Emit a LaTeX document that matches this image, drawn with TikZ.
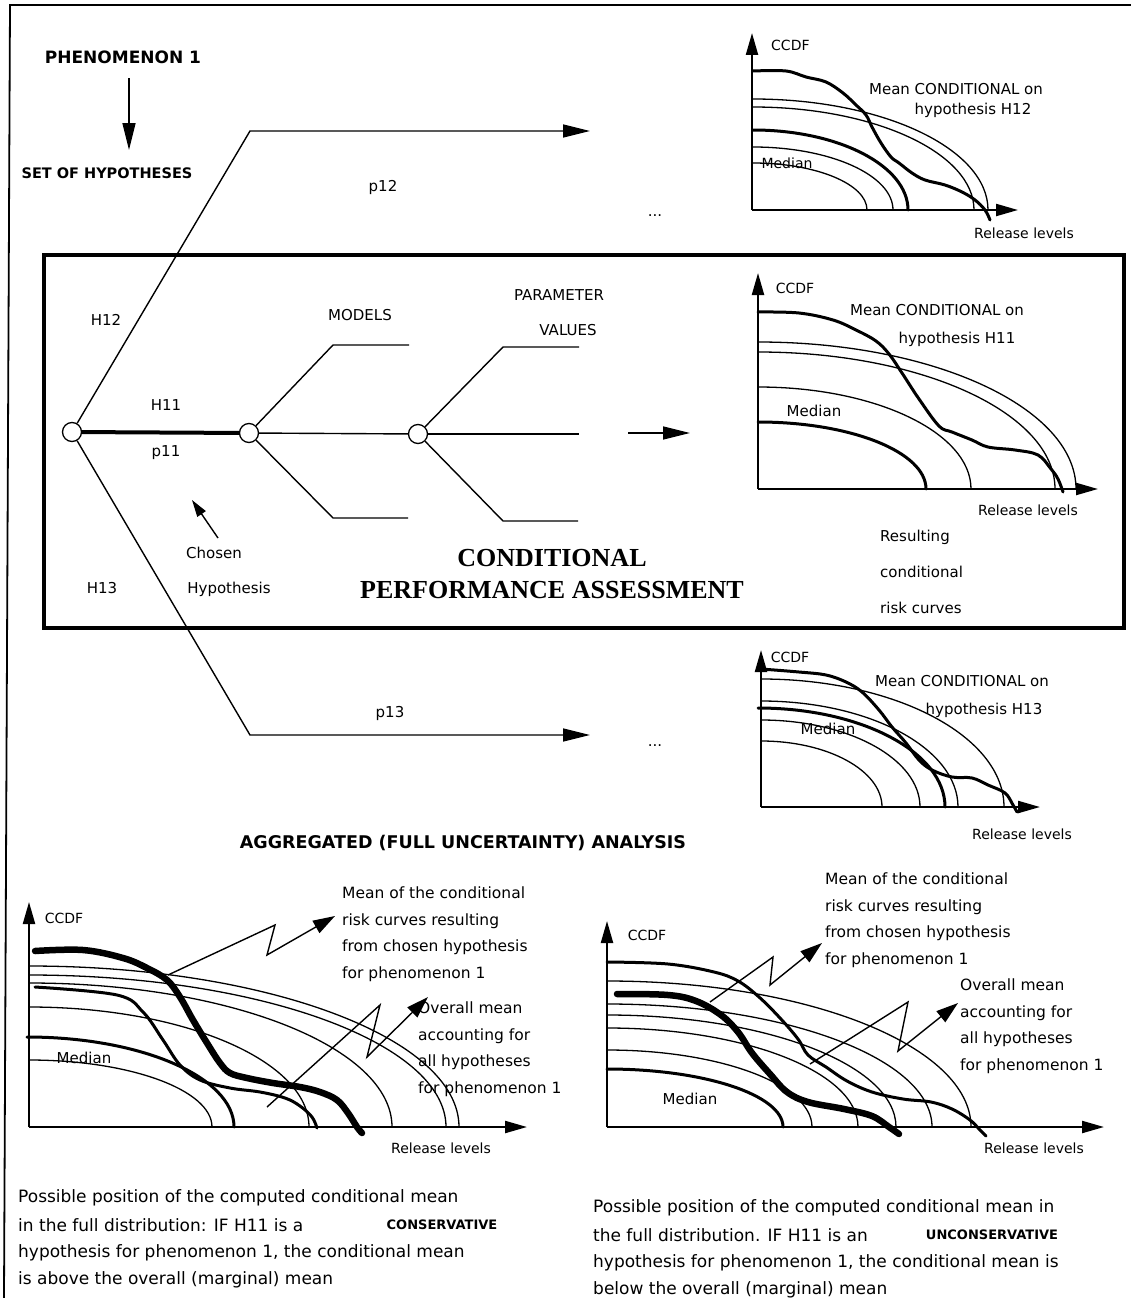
\documentclass[tikz,border=0pt]{standalone}
\usepackage{fontspec}
\setmainfont{DejaVu Sans}
\newfontfamily\titlefont{Liberation Serif}
\usepackage{tikz}
\usetikzlibrary{arrows.meta}
\tikzstyle{lbl} = [inner sep=0pt, font=\fontsize{15}{18}\selectfont]
\tikzstyle{axislbl} = [inner sep=0pt, font=\fontsize{14}{17}\selectfont]
\tikzstyle{notes} = [inner sep=0pt, anchor=west, align=left, font=\fontsize{15.5}{26.5}\selectfont]
\tikzstyle{caption} = [inner sep=0pt, anchor=west, font=\fontsize{17}{20}\selectfont]
\tikzstyle{heading} = [inner sep=0pt, font=\bfseries\fontsize{17}{20}\selectfont]
\tikzstyle{chance} = [draw, circle, minimum size=19pt, inner sep=0pt, line width=1.3pt]
\tikzstyle{branch} = [line width=1.4pt]
\tikzstyle{bigtip} = [-{Triangle[length=27pt,width=13pt]}]
\tikzstyle{smalltip} = [-{Triangle[length=22pt,width=14pt]}]
\tikzstyle{plotaxis} = [line width=2.2pt, -{Triangle[length=22pt,width=12pt]}]
\tikzstyle{thinrisk} = [line width=1.3pt]
\tikzstyle{thickrisk} = [line width=3pt, line cap=round]
\tikzstyle{fatrisk} = [line width=6.5pt, line cap=round]

\begin{document}
\begin{tikzpicture}[x=1pt, y=-1pt]
\useasboundingbox (0,0) rectangle (1131,1298);
% frame
\draw[line width=1.8pt] (1131,5) -- (10,5) -- (4,1298);
\draw[line width=4pt] (44,255) rectangle (1124,628);

% phenomenon and hypotheses
\node[heading] (phen) at (123,57) {PHENOMENON 1};
\node[heading, font=\bfseries\fontsize{14.5}{17}\selectfont] (hyps) at (107,173) {SET OF HYPOTHESES};
\coordinate (phenout) at (129,78);
\coordinate (hypsin) at (129,150);
\draw[branch, bigtip] (phenout) -- (hypsin);

% hypothesis tree
\node[chance] (root) at (72,432) {};
\node[chance] (models) at (249,433) {};
\node[chance] (params) at (418,434) {};
\coordinate (h12bend) at (250,131);
\coordinate (h12end) at (590,131);
\coordinate (h13bend) at (250,735);
\coordinate (h13end) at (590,735);
\draw[branch, bigtip] (root) -- (h12bend) -- (h12end);
\draw[branch, bigtip] (root) -- (h13bend) -- (h13end);
\draw[line width=4pt] (root) -- (models);

\coordinate (mup) at (333,345);
\coordinate (mupend) at (409,345);
\coordinate (mlow) at (333,518);
\coordinate (mlowend) at (408,518);
\draw[branch] (models) -- (mup) -- (mupend);
\draw[branch] (models) -- (params);
\draw[branch] (models) -- (mlow) -- (mlowend);

\coordinate (pup) at (503,347);
\coordinate (pupend) at (579,347);
\coordinate (pmidend) at (579,434);
\coordinate (plow) at (503,521);
\coordinate (plowend) at (578,521);
\draw[branch] (params) -- (pup) -- (pupend);
\draw[branch] (params) -- (pmidend);
\draw[branch] (params) -- (plow) -- (plowend);

\coordinate (resout) at (628,433);
\coordinate (resin) at (690,433);
\draw[branch, bigtip] (resout) -- (resin);

\node[lbl] (h12) at (106,320) {H12};
\node[lbl] (h11) at (166,405) {H11};
\node[lbl] (p11) at (166,453) {p11};
\node[lbl] (h13) at (102,588) {H13};
\node[lbl] (p12) at (383,187) {p12};
\node[lbl] (p13) at (390,713) {p13};
\node[lbl] (dotsA) at (655,216) {...};
\node[lbl] (dotsB) at (655,746) {...};
\node[lbl] (modlbl) at (360,315) {MODELS};
\node[lbl] (parlbl) at (559,295) {PARAMETER};
\node[lbl] (vallbl) at (568,330) {VALUES};
\node[lbl] (chosen) at (214,553) {Chosen};
\node[lbl] (chosenh) at (229,589) {Hypothesis};
\coordinate (chosenout) at (218,538);
\coordinate (chosenin) at (192,500);
\draw[branch, -{Triangle[length=17pt,width=10pt]}] (chosenout) -- (chosenin);
\node[align=center, inner sep=0pt, font=\titlefont\bfseries\fontsize{26}{32}\selectfont] (cpa) at (552,574) {CONDITIONAL\\PERFORMANCE ASSESSMENT};
\node[notes, font=\fontsize{15}{36}\selectfont] (resulting) at (880,572) {Resulting\\conditional\\risk curves};

% plot H12
\coordinate (orgA) at (752,210);
\coordinate (ccdfA) at (752,33);
\coordinate (relA) at (1018,210);
\draw[thinrisk] (753,99) arc[start angle=270, end angle=360, x radius=235, y radius=111];
\draw[thinrisk] (753,107) arc[start angle=270, end angle=360, x radius=221, y radius=103];
\draw[thinrisk] (753,147) arc[start angle=270, end angle=360, x radius=140, y radius=63];
\draw[thinrisk] (753,163) arc[start angle=270, end angle=360, x radius=114, y radius=47];
\draw[thickrisk] (753,130) arc[start angle=270, end angle=360, x radius=155, y radius=80];
\draw[thickrisk] plot[smooth, tension=0.6] coordinates {(753,71) (786,71) (806,77) (826,82) (843,93) (856,105) (866,115) (872,127) (881,143) (891,157) (899,163) (912,173) (925,180) (945,185) (962,192) (975,200) (985,210) (990,220)};
\draw[plotaxis] (orgA) -- (ccdfA);
\draw[plotaxis] (orgA) -- (relA);
\node[axislbl, anchor=west] (ccdfAlbl) at (771,45) {CCDF};
\node[lbl] (meanA) at (956,89) {Mean CONDITIONAL on};
\node[lbl] (meanAh) at (973,110) {hypothesis H12};
\node[axislbl] (medA) at (787,163) {Median};
\node[axislbl] (relAlbl) at (1024,233) {Release levels};

% plot H11
\coordinate (orgB) at (758,489);
\coordinate (ccdfB) at (758,273);
\coordinate (relB) at (1098,489);
\draw[thinrisk] (758,342) arc[start angle=270, end angle=360, x radius=318, y radius=147];
\draw[thinrisk] (758,352) arc[start angle=270, end angle=360, x radius=297, y radius=137];
\draw[thinrisk] (758,387) arc[start angle=270, end angle=360, x radius=213, y radius=102];
\draw[thickrisk] (758,422) arc[start angle=270, end angle=360, x radius=168, y radius=67];
\draw[thickrisk] plot[smooth, tension=0.6] coordinates {(758,312) (799,313) (833,320) (856,330) (876,341) (889,354) (902,373) (919,399) (939,426) (952,432) (972,440) (988,447) (1015,450) (1038,455) (1051,469) (1058,479) (1063,492)};
\draw[plotaxis] (orgB) -- (ccdfB);
\draw[plotaxis] (orgB) -- (relB);
\node[axislbl] (ccdfBlbl) at (795,288) {CCDF};
\node[lbl] (meanB) at (937,310) {Mean CONDITIONAL on};
\node[lbl] (meanBh) at (957,339) {hypothesis H11};
\node[lbl] (medB) at (814,411) {Median};
\node[axislbl] (relBlbl) at (1028,510) {Release levels};

% plot H13
\coordinate (orgC) at (761,807);
\coordinate (ccdfC) at (761,650);
\coordinate (relC) at (1040,807);
\draw[thinrisk] (761,679) arc[start angle=270, end angle=360, x radius=243, y radius=128];
\draw[thinrisk] (761,701) arc[start angle=270, end angle=360, x radius=197, y radius=106];
\draw[thinrisk] (761,720) arc[start angle=270, end angle=360, x radius=159, y radius=87];
\draw[thinrisk] (761,741) arc[start angle=270, end angle=360, x radius=121, y radius=66];
\draw[thickrisk] (758,708) arc[start angle=270, end angle=360, x radius=187, y radius=99];
\draw[thickrisk] plot[smooth, tension=0.6] coordinates {(761,669) (799,672) (826,675) (846,682) (862,692) (879,710) (892,727) (906,743) (919,760) (932,770) (952,777) (972,778) (988,785) (1005,793) (1013,805) (1017,812)};
\draw[plotaxis] (orgC) -- (ccdfC);
\draw[plotaxis] (orgC) -- (relC);
\node[axislbl] (ccdfClbl) at (790,657) {CCDF};
\node[lbl] (meanC) at (962,681) {Mean CONDITIONAL on};
\node[lbl] (meanCh) at (984,710) {hypothesis H13};
\node[lbl] (medC) at (828,729) {Median};
\node[axislbl] (relClbl) at (1022,834) {Release levels};

% aggregated analysis
\node[heading, font=\bfseries\fontsize{17.5}{20}\selectfont] (aggr) at (463,843) {AGGREGATED (FULL UNCERTAINTY) ANALYSIS};

% conservative case
\coordinate (orgL) at (29,1127);
\coordinate (ccdfL) at (29,902);
\coordinate (relL) at (527,1127);
\draw[thinrisk] (29,966) arc[start angle=270, end angle=360, x radius=430, y radius=161];
\draw[thinrisk] (29,975) arc[start angle=270, end angle=360, x radius=417, y radius=152];
\draw[thinrisk] (29,983) arc[start angle=270, end angle=360, x radius=363, y radius=144];
\draw[thinrisk] (29,1007) arc[start angle=270, end angle=360, x radius=280, y radius=120];
\draw[thinrisk] (29,1060) arc[start angle=270, end angle=360, x radius=183, y radius=67];
\draw[thickrisk] (27,1037) arc[start angle=270, end angle=360, x radius=207, y radius=90];
\draw[thickrisk] plot[smooth, tension=0.6] coordinates {(35,987) (117,995) (143,1012) (163,1040) (180,1065) (200,1080) (230,1088) (260,1092) (285,1098) (300,1106) (312,1117) (317,1128)};
\draw[fatrisk] plot[smooth, tension=0.6] coordinates {(35,951) (83,950) (123,958) (147,968) (167,980) (180,997) (193,1020) (207,1043) (220,1063) (230,1073) (247,1078) (273,1083) (300,1087) (320,1092) (337,1100) (348,1113) (357,1127) (362,1133)};
\draw[plotaxis] (orgL) -- (ccdfL);
\draw[plotaxis] (orgL) -- (relL);
\node[axislbl] (ccdfLlbl) at (64,918) {CCDF};
\node[lbl] (medL) at (84,1058) {Median};
\node[axislbl] (relLlbl) at (441,1148) {Release levels};
\node[notes] (condL) at (342,934) {Mean of the conditional\\risk curves resulting\\from chosen hypothesis\\for phenomenon 1};
\node[notes] (overL) at (418,1049) {Overall mean\\accounting for\\all hypotheses\\for phenomenon 1};
\coordinate (condLa) at (168,975);
\coordinate (condLb) at (275,925);
\coordinate (condLc) at (267,955);
\coordinate (condLd) at (335,916);
\draw[branch, smalltip] (condLa) -- (condLb) -- (condLc) -- (condLd);
\coordinate (overLa) at (267,1107);
\coordinate (overLb) at (380,1005);
\coordinate (overLc) at (367,1057);
\coordinate (overLd) at (428,997);
\draw[branch, smalltip] (overLa) -- (overLb) -- (overLc) -- (overLd);

% unconservative case
\coordinate (orgR) at (607,1127);
\coordinate (ccdfR) at (607,921);
\coordinate (relR) at (1104,1127);
\draw[thinrisk] (607,981) arc[start angle=270, end angle=360, x radius=364, y radius=146];
\draw[thinrisk] (607,1004) arc[start angle=270, end angle=360, x radius=325, y radius=123];
\draw[thinrisk] (607,1015) arc[start angle=270, end angle=360, x radius=289, y radius=112];
\draw[thinrisk] (607,1028) arc[start angle=270, end angle=360, x radius=251, y radius=99];
\draw[thinrisk] (607,1050) arc[start angle=270, end angle=360, x radius=205, y radius=77];
\draw[thickrisk] (607,1069) arc[start angle=270, end angle=360, x radius=176, y radius=58];
\draw[thickrisk] plot[smooth, tension=0.6] coordinates {(607,962) (668,964) (714,972) (738,981) (759,997) (780,1018) (798,1039) (808,1055) (826,1067) (847,1081) (872,1092) (903,1099) (931,1102) (952,1109) (970,1120) (980,1130) (986,1136)};
\draw[fatrisk] plot[smooth, tension=0.6] coordinates {(617,994) (668,995) (696,1001) (721,1015) (738,1032) (752,1053) (770,1074) (787,1092) (808,1102) (844,1109) (872,1116) (889,1127) (899,1134)};
\draw[plotaxis] (orgR) -- (ccdfR);
\draw[plotaxis] (orgR) -- (relR);
\node[axislbl] (ccdfRlbl) at (647,935) {CCDF};
\node[lbl] (medR) at (690,1099) {Median};
\node[axislbl] (relRlbl) at (1034,1148) {Release levels};
\node[notes] (condR) at (825,920) {Mean of the conditional\\risk curves resulting\\from chosen hypothesis\\for phenomenon 1};
\node[notes] (overR) at (960,1026) {Overall mean\\accounting for\\all hypotheses\\for phenomenon 1};
\coordinate (condRa) at (710,1002);
\coordinate (condRb) at (773,957);
\coordinate (condRc) at (770,985);
\coordinate (condRd) at (822,943);
\draw[branch, smalltip] (condRa) -- (condRb) -- (condRc) -- (condRd);
\coordinate (overRa) at (810,1064);
\coordinate (overRb) at (908,1002);
\coordinate (overRc) at (898,1051);
\coordinate (overRd) at (958,1003);
\draw[branch, smalltip] (overRa) -- (overRb) -- (overRc) -- (overRd);

% captions
\node[caption] (capL1) at (18,1198) {Possible position of the computed conditional mean};
\node[caption] (capL2) at (18,1225) {in the full distribution: IF H11 is a};
\node[heading, font=\bfseries\fontsize{13}{16}\selectfont] (consv) at (442,1225) {CONSERVATIVE};
\node[caption] (capL3) at (18,1253) {hypothesis for phenomenon 1, the conditional mean};
\node[caption] (capL4) at (18,1280) {is above the overall (marginal) mean};
\node[caption] (capR1) at (593,1208) {Possible position of the computed conditional mean in};
\node[caption] (capR2) at (593,1235) {the full distribution. IF H11 is an};
\node[heading, font=\bfseries\fontsize{13}{16}\selectfont] (unconsv) at (992,1235) {UNCONSERVATIVE};
\node[caption] (capR3) at (593,1263) {hypothesis for phenomenon 1, the conditional mean is};
\node[caption] (capR4) at (593,1290) {below the overall (marginal) mean};
\end{tikzpicture}
\end{document}
